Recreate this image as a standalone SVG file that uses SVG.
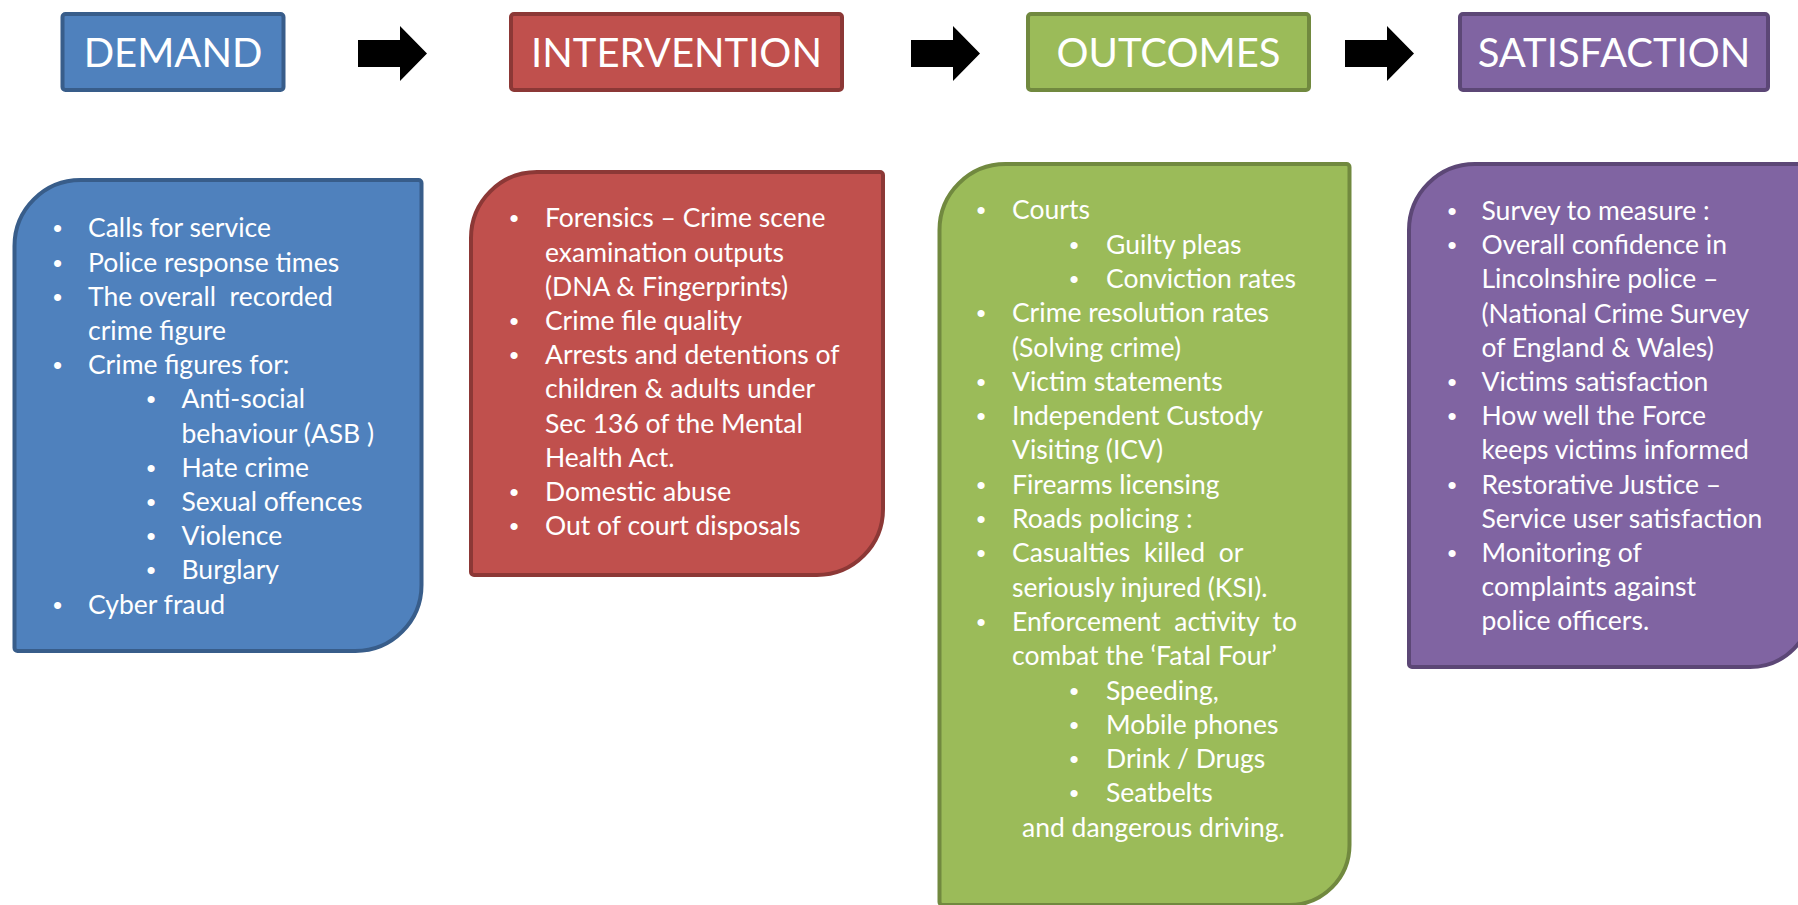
<svg xmlns="http://www.w3.org/2000/svg" width="1798" height="905" viewBox="0 0 1798 905">
<style>
.t{font-family:Lato,"Open Sans","Liberation Sans",sans-serif;font-size:26.5px;fill:#ffffff}
.b{font-family:"Liberation Sans",Arial,sans-serif;font-size:26px;fill:#ffffff;text-anchor:middle}
.h{font-family:Lato,"Open Sans","Liberation Sans",sans-serif;font-size:40px;fill:#ffffff;text-anchor:middle}
.blue{fill:#4F81BD;stroke:#385D8A;stroke-width:4}
.red{fill:#C0504D;stroke:#8C3836;stroke-width:4}
.green{fill:#9BBB59;stroke:#71893F;stroke-width:4}
.purple{fill:#8064A2;stroke:#5C4776;stroke-width:4}
.arrow{fill:#000000}
</style>
<rect width="1798" height="905" fill="#ffffff"/>

<g id="header-demand">
<rect class="blue" x="62.5" y="14" width="221" height="76" rx="3"/>
<text class="h" x="173" y="67">DEMAND</text>
</g>
<g id="header-intervention">
<rect class="red" x="511" y="14" width="331" height="76" rx="3"/>
<text class="h" x="676.5" y="67">INTERVENTION</text>
</g>
<g id="header-outcomes">
<rect class="green" x="1028" y="14" width="281" height="76" rx="3"/>
<text class="h" x="1168.5" y="67">OUTCOMES</text>
</g>
<g id="header-satisfaction">
<rect class="purple" x="1460" y="14" width="308" height="76" rx="3"/>
<text class="h" x="1614" y="67">SATISFACTION</text>
</g>

<g id="connectors">
<path class="arrow" d="M358,40 H400 V26 L427,53.5 L400,81 V67 H358 Z"/>
<path class="arrow" d="M911,40 H953 V26 L980,53.5 L953,81 V67 H911 Z"/>
<path class="arrow" d="M1345,40 H1387 V26 L1414,53.5 L1387,81 V67 H1345 Z"/>
</g>

<g id="box-demand">
<path class="blue" d="M14.5,246 A66,66 0 0 1 80.5,180 H418.5 A3,3 0 0 1 421.5,183 V585 A66,66 0 0 1 355.5,651 H17.5 A3,3 0 0 1 14.5,648 Z"/>
<text class="b" x="57.5" y="237.3">•</text><text class="t" x="88" y="237.3">Calls for service</text>
<text class="b" x="57.5" y="271.5">•</text><text class="t" x="88" y="271.5">Police response times</text>
<text class="b" x="57.5" y="305.7">•</text><text class="t" x="88" y="305.7" xml:space="preserve">The overall  recorded</text>
<text class="t" x="88" y="340">crime figure</text>
<text class="b" x="57.5" y="374.1">•</text><text class="t" x="88" y="374.1">Crime figures for:</text>
<text class="b" x="151" y="408.3">•</text><text class="t" x="181.5" y="408.3">Anti-social</text>
<text class="t" x="181.5" y="442.5">behaviour (ASB )</text>
<text class="b" x="151" y="476.7">•</text><text class="t" x="181.5" y="476.7">Hate crime</text>
<text class="b" x="151" y="510.9">•</text><text class="t" x="181.5" y="510.9">Sexual offences</text>
<text class="b" x="151" y="545.1">•</text><text class="t" x="181.5" y="545.1">Violence</text>
<text class="b" x="151" y="579.3">•</text><text class="t" x="181.5" y="579.3">Burglary</text>
<text class="b" x="57.5" y="613.5">•</text><text class="t" x="88" y="613.5">Cyber fraud</text>
</g>

<g id="box-intervention">
<path class="red" d="M471,238 A66,66 0 0 1 537,172 H880 A3,3 0 0 1 883,175 V509 A66,66 0 0 1 817,575 H474 A3,3 0 0 1 471,572 Z"/>
<text class="b" x="514" y="227.3">•</text><text class="t" x="545" y="227.3">Forensics – Crime scene</text>
<text class="t" x="545" y="261.5">examination outputs</text>
<text class="t" x="545" y="295.7">(DNA &amp; Fingerprints)</text>
<text class="b" x="514" y="329.9">•</text><text class="t" x="545" y="329.9">Crime file quality</text>
<text class="b" x="514" y="364.1">•</text><text class="t" x="545" y="364.1">Arrests and detentions of</text>
<text class="t" x="545" y="398.3">children &amp; adults under</text>
<text class="t" x="545" y="432.5">Sec 136 of the Mental</text>
<text class="t" x="545" y="466.7">Health Act.</text>
<text class="b" x="514" y="500.9">•</text><text class="t" x="545" y="500.9">Domestic abuse</text>
<text class="b" x="514" y="535.1">•</text><text class="t" x="545" y="535.1">Out of court disposals</text>
</g>

<g id="box-outcomes">
<path class="green" d="M939.5,230 A66,66 0 0 1 1005.5,164 H1346.5 A3,3 0 0 1 1349.5,167 V845 A60,60 0 0 1 1289.5,905 H942.5 A3,3 0 0 1 939.5,902 Z"/>
<text class="b" x="981" y="219.3">•</text><text class="t" x="1012" y="219.3">Courts</text>
<text class="b" x="1074" y="253.6">•</text><text class="t" x="1106" y="253.6">Guilty pleas</text>
<text class="b" x="1074" y="287.9">•</text><text class="t" x="1106" y="287.9">Conviction rates</text>
<text class="b" x="981" y="322.2">•</text><text class="t" x="1012" y="322.2">Crime resolution rates</text>
<text class="t" x="1012" y="356.5">(Solving crime)</text>
<text class="b" x="981" y="390.8">•</text><text class="t" x="1012" y="390.8">Victim statements</text>
<text class="b" x="981" y="425.1">•</text><text class="t" x="1012" y="425.1">Independent Custody</text>
<text class="t" x="1012" y="459.4">Visiting (ICV)</text>
<text class="b" x="981" y="493.7">•</text><text class="t" x="1012" y="493.7">Firearms licensing</text>
<text class="b" x="981" y="528">•</text><text class="t" x="1012" y="528">Roads policing :</text>
<text class="b" x="981" y="562.3">•</text><text class="t" x="1012" y="562.3" xml:space="preserve">Casualties  killed  or</text>
<text class="t" x="1012" y="596.6">seriously injured (KSI).</text>
<text class="b" x="981" y="630.9">•</text><text class="t" x="1012" y="630.9" xml:space="preserve">Enforcement  activity  to</text>
<text class="t" x="1012" y="665.2">combat the ‘Fatal Four’</text>
<text class="b" x="1074" y="699.5">•</text><text class="t" x="1106" y="699.5">Speeding,</text>
<text class="b" x="1074" y="733.8">•</text><text class="t" x="1106" y="733.8">Mobile phones</text>
<text class="b" x="1074" y="768.1">•</text><text class="t" x="1106" y="768.1">Drink / Drugs</text>
<text class="b" x="1074" y="802.4">•</text><text class="t" x="1106" y="802.4">Seatbelts</text>
<text class="t" x="1022" y="836.7">and dangerous driving.</text>
</g>

<g id="box-satisfaction">
<path class="purple" d="M1409,230 A66,66 0 0 1 1475,164 H1812 V605 A62,62 0 0 1 1750,667 H1412 A3,3 0 0 1 1409,664 Z"/>
<text class="b" x="1452" y="220">•</text><text class="t" x="1481.5" y="220">Survey to measure :</text>
<text class="b" x="1452" y="254.2">•</text><text class="t" x="1481.5" y="254.2">Overall confidence in</text>
<text class="t" x="1481.5" y="288.4">Lincolnshire police –</text>
<text class="t" x="1481.5" y="322.6">(National Crime Survey</text>
<text class="t" x="1481.5" y="356.8">of England &amp; Wales)</text>
<text class="b" x="1452" y="391">•</text><text class="t" x="1481.5" y="391">Victims satisfaction</text>
<text class="b" x="1452" y="425.2">•</text><text class="t" x="1481.5" y="425.2">How well the Force</text>
<text class="t" x="1481.5" y="459.4">keeps victims informed</text>
<text class="b" x="1452" y="493.6">•</text><text class="t" x="1481.5" y="493.6">Restorative Justice –</text>
<text class="t" x="1481.5" y="527.8">Service user satisfaction</text>
<text class="b" x="1452" y="562">•</text><text class="t" x="1481.5" y="562">Monitoring of</text>
<text class="t" x="1481.5" y="596.2">complaints against</text>
<text class="t" x="1481.5" y="630.4">police officers.</text>
</g>
</svg>
